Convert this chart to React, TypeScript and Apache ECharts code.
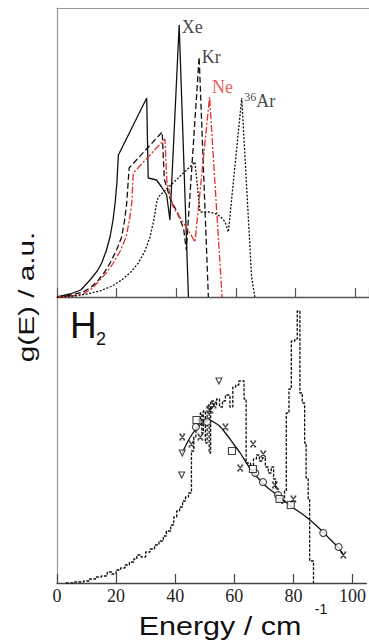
import React, { useEffect, useRef } from "react";
import * as echarts from "echarts";

// ---------- data (Energy / cm^-1, g(E) in arbitrary units) ----------
const xTicks = [0, 20, 40, 60, 80, 100];

const xeCurve = [[0,0],[4.4,3],[8,7],[11.1,17],[13.5,26],[15,34],[16.5,46],[17.8,60],[18.8,77],[19.5,94],[20.1,114],[20.6,142],[30.1,199],[30.6,119],[33.4,117],[35.1,110],[36.8,102],[37.9,77],[41.0,272],[44.1,0]];
const krCurve = [[0,0],[5,2],[8.8,5],[11.5,10],[13.9,17],[16,25],[17.8,34],[20,47],[21.7,60],[22.7,77],[23.4,94],[24.2,129],[35.3,165],[36,118],[38,98],[40.5,84],[42.5,68],[43.4,47],[47.7,240],[50.8,0]];
const neCurve = [[0,0],[5,1],[8.8,3],[12,9],[14.4,17],[16.8,25],[18.9,34],[21.2,46],[23.2,60],[24.3,77],[25.1,94],[25.6,124],[36.2,158],[36.9,115],[39,90],[41.8,77],[44.6,64],[46.3,55],[51.2,200],[55.4,0]];
const arCurve = [[0,0],[6,1],[10,3],[14.4,6],[18.5,11],[21.7,17],[24.8,25],[27.3,34],[29.5,46],[31.2,60],[32.5,77],[33.4,94],[34,100],[46.3,135],[48,85],[51,85],[53.6,83],[55.3,79],[56.4,75],[57.5,65],[62,199],[65.3,20],[66.4,0]];

const h2Histogram = [[3,0],[6,1],[9,2],[11,4],[13,6],[15,7],[17,11],[18.5,9],[20,13],[21.5,15],[23,18],[24.5,21],[26,24],[27,28],[28.5,26],[30,31],[31.5,34],[33,38],[34.5,42],[36,47],[37,52],[38.5,58],[39.5,66],[40.5,72],[41.5,76],[42.5,82],[43.5,86],[44.5,90],[45.5,132],[46.3,146],[47,158],[47.8,164],[48.5,170],[49,150],[49.5,172],[50.2,140],[50.8,178],[51.5,130],[52,182],[53,178],[54,184],[55,176],[56,182],[57,188],[58.5,176],[59.5,196],[60.5,198],[61.5,202],[63.3,184],[64,120],[65.5,118],[66.5,124],[67.5,128],[68.5,122],[69.5,125],[70.5,116],[71.5,110],[72.5,116],[73.3,104],[74,94],[75,82],[76,80],[77,92],[77.6,170],[78.5,194],[79.3,242],[80.5,244],[81.3,272],[82.2,190],[83,180],[83.8,140],[84.3,105],[85,84],[85.5,22],[86.8,0]];
const h2Fit = [[42.4,130],[44,140],[46,150],[48,157],[50,162],[51.5,163],[53,161],[55,157],[57,150],[60,138],[62,130],[65,116],[68,105],[71,96],[74,89],[77,82],[80,75],[83,69],[86,62],[89,54],[92,45],[95,36],[97,28]];
const h2Circles = [[47.0,156],[50.8,161],[67.1,110],[69.7,101],[74.8,88],[90.1,50],[95.3,36]];
const h2Squares = [[47.2,163],[59.2,132],[66.3,114],[75.3,84],[79.1,78]];
const h2Triangles = [[42.4,130],[42.2,108],[54.8,202]];
const h2Crosses = [[42.4,146],[45.5,139],[48.5,146],[51.9,173],[53,178],[57,156],[62,115],[66.4,139],[69.8,129],[73.7,98],[80,84],[96.9,28]];

const speciesNames = ["Xe", "Kr", "Ne", "36Ar"];

// ---------- chart ----------
const X_MAX = 104.7;
const peakOf = (arr: number[][]) => arr.reduce((m, p) => (p[1] > m[1] ? p : m), arr[0]);

const serif = "Liberation Serif";
const sans = "Liberation Sans";

function buildOption() {
  const tickFmt = (v: number) => (xTicks.indexOf(v) >= 0 ? String(v) : "");
  const baseX = {
    type: "value",
    min: 0,
    max: X_MAX,
    interval: 20,
    splitLine: { show: false },
  };
  const curves = [
    { name: "Xe", data: xeCurve, color: "#111", type: "solid" as any },
    { name: "Kr", data: krCurve, color: "#111", type: [6, 3] },
    { name: "Ne", data: neCurve, color: "#e0302a", type: [7, 2, 2, 2] },
    { name: "36Ar", data: arCurve, color: "#111", type: [2, 1.6] },
  ];
  const labelColors: Record<string, string> = { Xe: "#111", Kr: "#111", Ne: "#e8322b", "36Ar": "#111" };
  const labelOffsets: Record<string, number[]> = { Xe: [0, 2], Kr: [0, 0], Ne: [0, -10], "36Ar": [0, 3] };

  const series: any[] = [];
  curves.forEach((c) => {
    series.push({
      type: "line",
      name: c.name,
      xAxisIndex: 0,
      yAxisIndex: 0,
      data: c.data,
      symbol: "none",
      lineStyle: { color: c.color, width: 1.3, type: c.type },
      z: 3,
    });
  });
  series.push({
    type: "scatter",
    xAxisIndex: 0,
    yAxisIndex: 0,
    symbolSize: 1,
    itemStyle: { color: "rgba(0,0,0,0)" },
    data: curves.map((c, i) => ({
      value: peakOf(c.data),
      label: {
        show: true,
        position: "right",
        distance: 2,
        offset: labelOffsets[speciesNames[i]],
        color: labelColors[speciesNames[i]],
        fontFamily: serif,
        fontSize: 18,
        formatter: speciesNames[i] === "36Ar" ? "{sup|36}{b|Ar}" : speciesNames[i],
        rich: {
          sup: { fontFamily: serif, fontSize: 12, color: "#111", padding: [0, 0, 8, 0] },
          b: { fontFamily: serif, fontSize: 18, color: "#111" },
        },
      },
    })),
    z: 5,
  });

  // bottom panel
  series.push({
    type: "line",
    xAxisIndex: 2,
    yAxisIndex: 1,
    data: h2Histogram,
    step: "end",
    symbol: "none",
    lineStyle: { color: "#111", width: 1.3, type: [3, 1.5] },
  });
  series.push({
    type: "line",
    xAxisIndex: 2,
    yAxisIndex: 1,
    data: h2Fit,
    symbol: "none",
    smooth: 0.3,
    lineStyle: { color: "#111", width: 1.3 },
  });
  const hollow = { color: "#fff", borderColor: "#111", borderWidth: 1.1 };
  series.push({ type: "scatter", xAxisIndex: 2, yAxisIndex: 1, data: h2Circles, symbol: "circle", symbolSize: 7, itemStyle: hollow, z: 4 });
  series.push({ type: "scatter", xAxisIndex: 2, yAxisIndex: 1, data: h2Squares, symbol: "rect", symbolSize: 7, itemStyle: hollow, z: 4 });
  series.push({ type: "scatter", xAxisIndex: 2, yAxisIndex: 1, data: h2Triangles, symbol: "triangle", symbolRotate: 180, symbolSize: 6, itemStyle: hollow, z: 4 });
  series.push({
    type: "scatter",
    xAxisIndex: 2,
    yAxisIndex: 1,
    data: h2Crosses,
    symbol: "path://M0,0L10,10M10,0L0,10M-1,0L3,0M7,0L11,0M-1,10L3,10M7,10L11,10",
    symbolSize: 6,
    itemStyle: { color: "none", borderColor: "#111", borderWidth: 1.2 },
    z: 4,
  });

  return {
    animation: false,
    backgroundColor: "#fff",
    grid: [
      { left: 57, top: 8, width: 312, height: 289 },
      { left: 57, top: 297, width: 312, height: 286 },
    ],
    xAxis: [
      {
        ...baseX,
        gridIndex: 0,
        position: "bottom",
        axisLine: { show: true, onZero: false, lineStyle: { color: "#555", width: 1.3 } },
        axisTick: { show: true, inside: true, length: 9, lineStyle: { color: "#555", width: 1.2 } },
        axisLabel: { show: false },
      },
      {
        ...baseX,
        gridIndex: 0,
        position: "top",
        axisLine: { show: true, onZero: false, lineStyle: { color: "#999", width: 1.2 } },
        axisTick: { show: false },
        axisLabel: { show: false },
      },
      {
        ...baseX,
        gridIndex: 1,
        position: "bottom",
        axisLine: { show: true, onZero: false, lineStyle: { color: "#444", width: 1.3 } },
        axisTick: { show: true, inside: true, length: 9, lineStyle: { color: "#444", width: 1.2 } },
        axisLabel: {
          show: true,
          formatter: tickFmt,
          fontFamily: serif,
          fontSize: 18,
          color: "#222",
          margin: 4,
          showMaxLabel: false,
        },
      },
    ],
    yAxis: [
      {
        type: "value", gridIndex: 0, min: 0, max: 289,
        axisLine: { show: true, onZero: false, lineStyle: { color: "#999", width: 1.2 } },
        axisTick: { show: false }, axisLabel: { show: false }, splitLine: { show: false },
      },
      {
        type: "value", gridIndex: 1, min: 0, max: 286,
        axisLine: { show: true, onZero: false, lineStyle: { color: "#999", width: 1.2 } },
        axisTick: { show: false }, axisLabel: { show: false }, splitLine: { show: false },
      },
    ],
    graphic: [
      {
        type: "text", x: 26, y: 297, rotation: Math.PI / 2, scaleX: 1.35,
        style: { text: "g(E) / a.u.", font: `22px "${sans}"`, fill: "#111", textAlign: "center", textVerticalAlign: "middle" },
      },
      {
        type: "text", x: 220, y: 626, scaleX: 1.22,
        style: { text: "Energy / cm", font: `25px "${sans}"`, fill: "#111", textAlign: "center", textVerticalAlign: "middle" },
      },
      {
        type: "text", x: 321, y: 609,
        style: { text: "-1", font: `14px "${sans}"`, fill: "#111", textAlign: "center", textVerticalAlign: "middle" },
      },
      {
        type: "text", x: 70, y: 325,
        style: { text: "H", font: `37px "${sans}"`, fill: "#111", textAlign: "left", textVerticalAlign: "middle" },
      },
      {
        type: "text", x: 96, y: 339,
        style: { text: "2", font: `18px "${sans}"`, fill: "#111", textAlign: "left", textVerticalAlign: "middle" },
      },
    ],
    series,
  };
}

export default function App() {
  const ref = useRef<HTMLDivElement>(null);
  useEffect(() => {
    if (!ref.current) return;
    const chart = echarts.init(ref.current, null, { renderer: "svg" });
    chart.setOption(buildOption() as any);
    return () => chart.dispose();
  }, []);
  return (
    <div
      ref={ref}
      style={{ position: "absolute", left: 0, top: 0, width: 369, height: 641, background: "#fff" }}
    />
  );
}
